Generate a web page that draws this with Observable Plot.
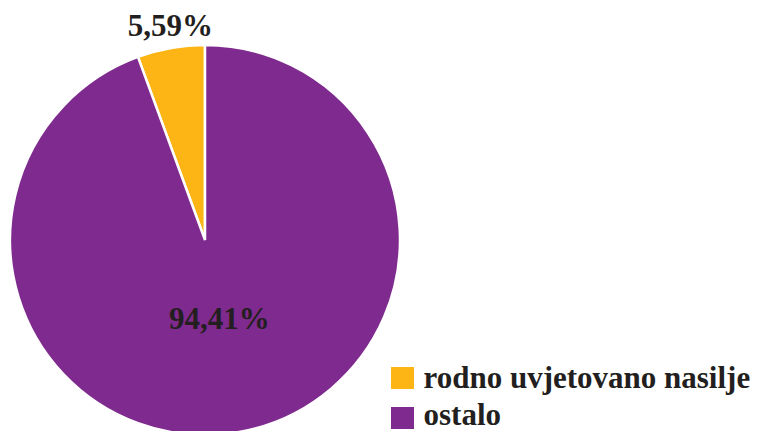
<!DOCTYPE html>
<html>
<head>
<meta charset="utf-8">
<script src="https://cdn.jsdelivr.net/npm/d3@7"></script>
<script src="https://cdn.jsdelivr.net/npm/@observablehq/plot@0.6"></script>
<style>
  html, body { margin: 0; padding: 0; background: #fff; }
  #chart { width: 761px; height: 431px; }
</style>
</head>
<body>
<div id="chart"></div>
<script>
const categories = ["rodno uvjetovano nasilje", "ostalo"];
const shares = [5.59, 94.41];
const labels = ["5,59%", "94,41%"];
const colors = ["#FDB515", "#7F2A8E"];

const W = 761, H = 431;
const cx = 205, cy = 240, R = 195;
const font = "'Liberation Serif', 'Times New Roman', serif";
const textColor = "#231F20";

const data = categories.map((c, i) => ({category: c, value: shares[i], label: labels[i], color: colors[i]}));
const start = -2 * Math.PI * shares[0] / 100;
const arcs = d3.pie().value(d => d.value).sort(null).startAngle(start).endAngle(start + 2 * Math.PI)(data);
const arcGen = d3.arc().innerRadius(0).outerRadius(R);
const labelRadius = [218, 80];
const labelShift = [3, 0];
const labelPts = arcs.map((a, i) => {
  const [x, y] = d3.arc().innerRadius(labelRadius[i]).outerRadius(labelRadius[i]).centroid(a);
  return {label: a.data.label, x: cx + x + labelShift[i], y: cy + y};
});

function pieMark() {
  const g = d3.create("svg:g").attr("transform", `translate(${cx},${cy})`);
  g.selectAll("path").data(arcs).join("path")
    .attr("d", arcGen)
    .attr("fill", d => d.data.color)
    .attr("stroke", "#fff")
    .attr("stroke-width", 2.5)
    .attr("stroke-linejoin", "miter");
  return g.node();
}

const legendX = 391, legendY = 367, legendStep = 40, sw = 23;
const textBase = [387, 424];

const chart = Plot.plot({
  width: W,
  height: H,
  margin: 0,
  style: {background: "#fff", fontFamily: font},
  x: {type: "identity", axis: null},
  y: {type: "identity", axis: null},
  marks: [
    pieMark,
    Plot.text(labelPts, {
      x: "x", y: "y", text: "label",
      fontSize: 31, fontWeight: "bold", fill: textColor,
      textAnchor: "middle", lineAnchor: "middle", fontFamily: font
    }),
    Plot.rect(data, {
      x1: () => legendX, x2: () => legendX + sw,
      y1: (d, i) => legendY + i * legendStep, y2: (d, i) => legendY + i * legendStep + 22,
      fill: "color"
    }),
    Plot.text(data, {
      x: () => 423, y: (d, i) => textBase[i],
      text: "category", textAnchor: "start", lineAnchor: "bottom",
      fontSize: 31, fontWeight: "bold", fill: textColor, fontFamily: font
    })
  ]
});
document.getElementById("chart").appendChild(chart);
</script>
</body>
</html>
